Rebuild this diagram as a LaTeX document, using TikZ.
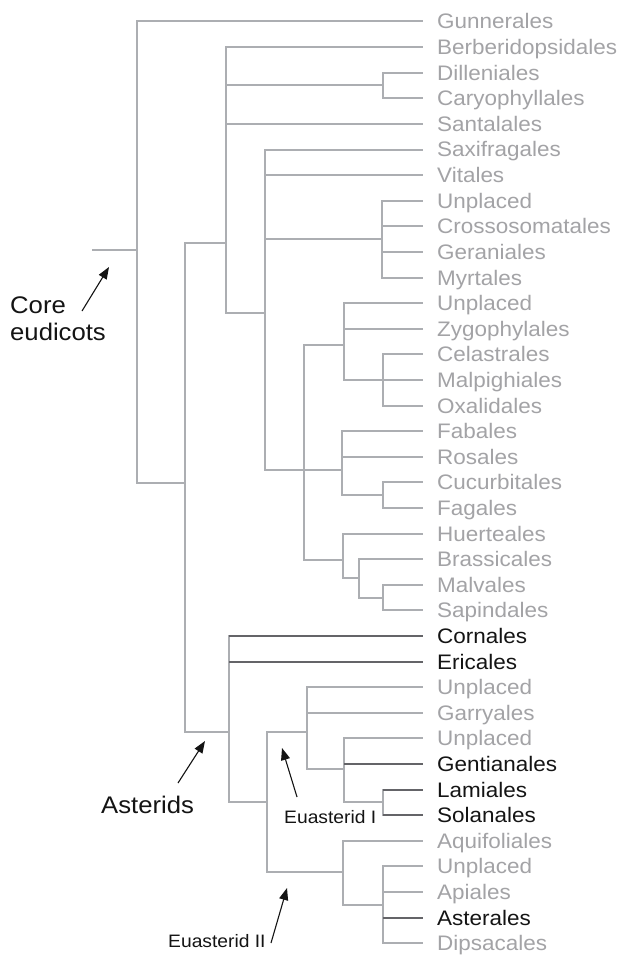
\documentclass[tikz,border=0pt]{standalone}
\usepackage{fontspec}
\setmainfont{Liberation Sans}[FakeStretch=1.07]
\usetikzlibrary{arrows.meta}
\definecolor{branch}{RGB}{172,174,178}
\definecolor{leafgray}{RGB}{163,163,166}
\definecolor{darkbranch}{RGB}{100,100,104}
\definecolor{ink}{RGB}{20,20,20}
\begin{document}
\begin{tikzpicture}[x=1pt,y=-1pt,
  br/.style={draw=branch, line width=2pt},
  tl/.style={br, shorten >=14pt},
  dk/.style={draw=darkbranch, line width=2pt, shorten >=14pt},
  leaf/.style={anchor=west, inner sep=0pt, text height=15pt, text depth=0pt,
    font=\fontsize{21}{21}\selectfont, text=leafgray},
  key/.style={leaf, text=ink},
  biglab/.style={anchor=base west, inner sep=0pt, font=\fontsize{24}{24}\selectfont, text=ink},
  smalllab/.style={anchor=base west, inner sep=0pt, font=\fontsize{18}{18}\selectfont, text=ink},
  arr/.style={draw=ink, line width=1.1pt, -{Triangle[length=12pt,width=9pt]}}]
\fill[white] (0,0) rectangle (621,955);
\useasboundingbox (0,0) rectangle (621,955);

% leaves
\node[leaf] (l0)  at (437, 21.5) {Gunnerales};
\node[leaf] (l1)  at (437, 47.1) {Berberidopsidales};
\node[leaf] (l2)  at (437, 72.7) {Dilleniales};
\node[leaf] (l3)  at (437, 98.3) {Caryophyllales};
\node[leaf] (l4)  at (437,123.9) {Santalales};
\node[leaf] (l5)  at (437,149.5) {Saxifragales};
\node[leaf] (l6)  at (437,175.1) {Vitales};
\node[leaf] (l7)  at (437,200.7) {Unplaced};
\node[leaf] (l8)  at (437,226.3) {Crossosomatales};
\node[leaf] (l9)  at (437,251.9) {Geraniales};
\node[leaf] (l10) at (437,277.5) {Myrtales};
\node[leaf] (l11) at (437,303.1) {Unplaced};
\node[leaf] (l12) at (437,328.7) {Zygophylales};
\node[leaf] (l13) at (437,354.3) {Celastrales};
\node[leaf] (l14) at (437,379.9) {Malpighiales};
\node[leaf] (l15) at (437,405.5) {Oxalidales};
\node[leaf] (l16) at (437,431.1) {Fabales};
\node[leaf] (l17) at (437,456.7) {Rosales};
\node[leaf] (l18) at (437,482.3) {Cucurbitales};
\node[leaf] (l19) at (437,507.9) {Fagales};
\node[leaf] (l20) at (437,533.5) {Huerteales};
\node[leaf] (l21) at (437,559.1) {Brassicales};
\node[leaf] (l22) at (437,584.7) {Malvales};
\node[leaf] (l23) at (437,610.3) {Sapindales};
\node[key]  (l24) at (437,635.9) {Cornales};
\node[key]  (l25) at (437,661.5) {Ericales};
\node[leaf] (l26) at (437,687.1) {Unplaced};
\node[leaf] (l27) at (437,712.7) {Garryales};
\node[leaf] (l28) at (437,738.3) {Unplaced};
\node[key]  (l29) at (437,763.9) {Gentianales};
\node[key]  (l30) at (437,789.5) {Lamiales};
\node[key]  (l31) at (437,815.1) {Solanales};
\node[leaf] (l32) at (437,840.7) {Aquifoliales};
\node[leaf] (l33) at (437,866.3) {Unplaced};
\node[leaf] (l34) at (437,891.9) {Apiales};
\node[key]  (l35) at (437,917.5) {Asterales};
\node[leaf] (l36) at (437,943.1) {Dipsacales};

% internal nodes
\coordinate (s0)    at (92,250);
\coordinate (root)  at (137,250);
\coordinate (n185)  at (185,483);
\coordinate (n226)  at (226,243);
\coordinate (nDC)   at (383,85.5);
\coordinate (nRos)  at (265,313);
\coordinate (nM)    at (382,239);
\coordinate (n304)  at (304,470);
\coordinate (nCOM)  at (344,345);
\coordinate (nCMO)  at (383,380);
\coordinate (nFab)  at (342,470);
\coordinate (nCF)   at (383,495);
\coordinate (nMalv) at (343,560);
\coordinate (nBMS)  at (359,578);
\coordinate (nMS)   at (383,597.5);
\coordinate (nAst)  at (229,732);
\coordinate (nEu)   at (267,802);
\coordinate (nE1)   at (307,732);
\coordinate (nG)    at (344,769);
\coordinate (nLS)   at (383,802.3);
\coordinate (nE2)   at (343,872);
\coordinate (nAp)   at (383,905);

% internal edges
\draw[br] (s0) -- (root);
\foreach \a/\b in {root/n185, n185/n226, n185/nAst, n226/nDC, n226/nRos,
  nRos/nM, nRos/n304, n304/nCOM, n304/nFab, n304/nMalv, nCOM/nCMO,
  nFab/nCF, nMalv/nBMS, nBMS/nMS, nAst/nEu, nEu/nE1, nEu/nE2,
  nE1/nG, nG/nLS, nE2/nAp}
  \draw[br] (\a) |- (\b);

% leaf edges
\foreach \a/\b in {root/l0, n226/l1, nDC/l2, nDC/l3, n226/l4, nRos/l5, nRos/l6,
  nM/l7, nM/l8, nM/l9, nM/l10, nCOM/l11, nCOM/l12, nCMO/l13, nCMO/l14, nCMO/l15,
  nFab/l16, nFab/l17, nCF/l18, nCF/l19, nMalv/l20, nBMS/l21, nMS/l22, nMS/l23,
  nAst/l24, nAst/l25, nE1/l26, nE1/l27, nG/l28, nG/l29, nLS/l30, nLS/l31,
  nE2/l32, nAp/l33, nAp/l34, nAp/l35, nAp/l36}
  \draw[tl] (\a) |- (\b);

% darker branches to highlighted orders
\foreach \a/\b in {nAst/l24, nAst/l25, nG/l29, nLS/l30, nLS/l31, nAp/l35}
  \draw[dk] (\a |- \b) -- (\b);

% labels
\node[biglab] (core) at (10,313) {Core};
\node[biglab] (eud)  at (10,340) {eudicots};
\node[biglab] (ast)  at (101,813) {Asterids};
\node[smalllab] (eu1) at (284,823) {Euasterid I};
\node[smalllab] (eu2) at (168,947) {Euasterid II};

% arrows
\coordinate (a1t) at (82,311);  \coordinate (a1h) at (109,267);
\coordinate (a2t) at (178,783); \coordinate (a2h) at (205,741);
\coordinate (a3t) at (297,797); \coordinate (a3h) at (282,748);
\coordinate (a4t) at (271,943); \coordinate (a4h) at (287,888);
\draw[arr] (a1t) -- (a1h);
\draw[arr] (a2t) -- (a2h);
\draw[arr] (a3t) -- (a3h);
\draw[arr] (a4t) -- (a4h);
\end{tikzpicture}
\end{document}
